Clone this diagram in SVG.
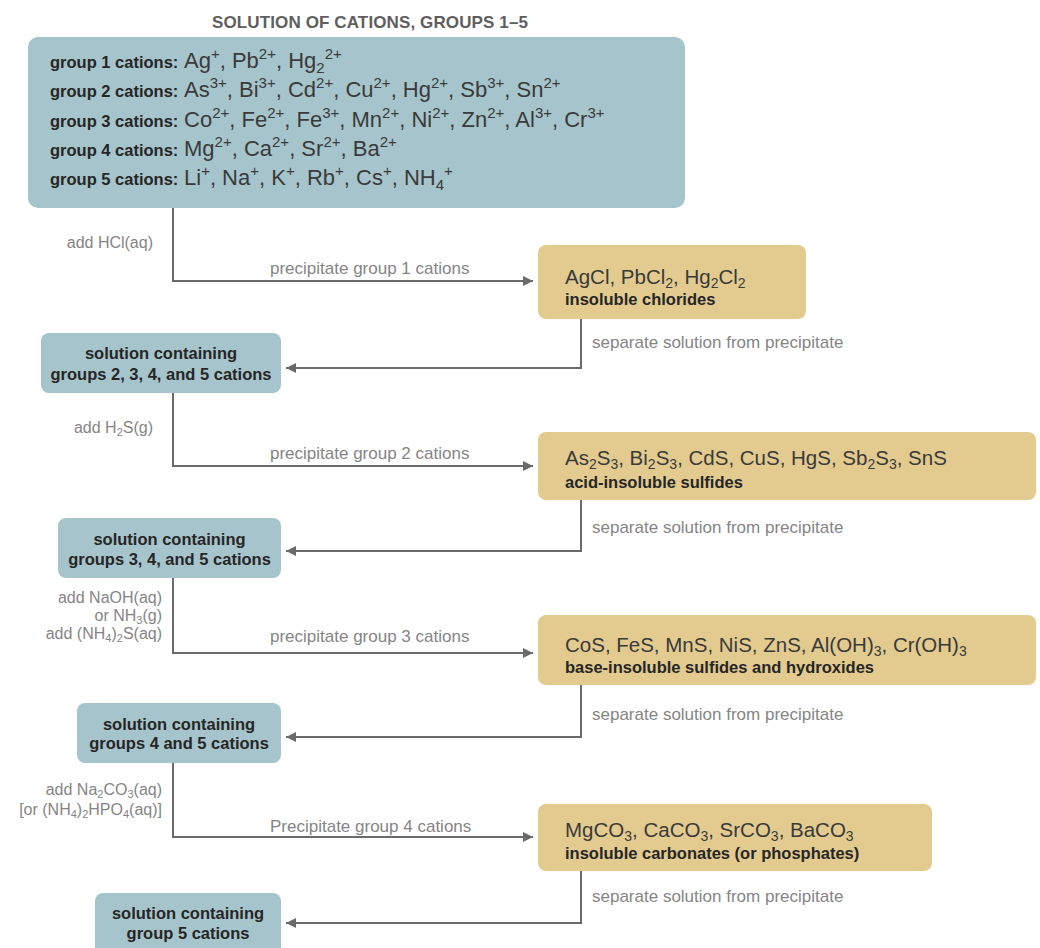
<svg xmlns="http://www.w3.org/2000/svg" width="1040" height="948" viewBox="0 0 1040 948">
<defs>
<style>
.title{font-family:"Liberation Sans",Arial,sans-serif;font-weight:700;font-size:17px;fill:#5e5e5e}
.sol{fill:#a6c4cb}
.ppt{fill:#e3ca8f}
.t{font-family:"Liberation Sans",Arial,sans-serif}
.lb{font-family:"Liberation Sans",Arial,sans-serif;font-weight:700;font-size:16.5px;fill:#262626}
.f{font-family:"Liberation Sans",Arial,sans-serif;font-weight:400;font-size:22px;fill:#3a3a3a}
.fp{font-family:"Liberation Sans",Arial,sans-serif;font-weight:400;font-size:20.5px;fill:#3a3a3a}
.s{font-size:15px}
.ss{font-size:14px}
.g{font-family:"Liberation Sans",Arial,sans-serif;font-size:17px;fill:#858585}
.gl{font-family:"Liberation Sans",Arial,sans-serif;font-size:16px;fill:#858585}
.gs{font-size:11px}
.ln{fill:none;stroke:#6a6a6a;stroke-width:2}
</style>
<marker id="ah" viewBox="0 0 10 10" refX="10" refY="5" markerWidth="10" markerHeight="10" markerUnits="userSpaceOnUse" orient="auto">
<path d="M0,0 L10,5 L0,10 z" fill="#6a6a6a"/>
</marker>
</defs>
<rect width="1040" height="948" fill="#ffffff"/>
<text class="title" x="212" y="28" textLength="316">SOLUTION OF CATIONS, GROUPS 1–5</text>

<g id="connectors">
<path class="ln" d="M173,208 V281 H533" marker-end="url(#ah)"/>
<path class="ln" d="M581,319 V368 H286" marker-end="url(#ah)"/>
<path class="ln" d="M173,393 V466 H533" marker-end="url(#ah)"/>
<path class="ln" d="M581,500 V551 H286" marker-end="url(#ah)"/>
<path class="ln" d="M173,578 V653 H533" marker-end="url(#ah)"/>
<path class="ln" d="M581,685 V737 H286" marker-end="url(#ah)"/>
<path class="ln" d="M173,763 V837 H533" marker-end="url(#ah)"/>
<path class="ln" d="M581,871 V923 H286" marker-end="url(#ah)"/>
<text class="gl" x="153" y="248" text-anchor="end">add HCl(aq)</text>
<text class="g" x="270" y="274">precipitate group 1 cations</text>
<text class="g" x="592" y="348">separate solution from precipitate</text>
<text class="gl" x="153" y="433" text-anchor="end">add H<tspan class="gs" dy="3">2</tspan><tspan dy="-3">S(g)</tspan></text>
<text class="g" x="270" y="459">precipitate group 2 cations</text>
<text class="g" x="592" y="533">separate solution from precipitate</text>
<text class="gl" text-anchor="end"><tspan x="162" y="603">add NaOH(aq)</tspan><tspan x="162" y="621">or NH</tspan><tspan class="gs" dy="3">3</tspan><tspan dy="-3">(g)</tspan><tspan x="162" y="639">add (NH</tspan><tspan class="gs" dy="3">4</tspan><tspan dy="-3">)</tspan><tspan class="gs" dy="3">2</tspan><tspan dy="-3">S(aq)</tspan></text>
<text class="g" x="270" y="642">precipitate group 3 cations</text>
<text class="g" x="592" y="720">separate solution from precipitate</text>
<text class="gl" text-anchor="end"><tspan x="162" y="795">add Na</tspan><tspan class="gs" dy="3">2</tspan><tspan dy="-3">CO</tspan><tspan class="gs" dy="3">3</tspan><tspan dy="-3">(aq)</tspan><tspan x="162" y="815">[or (NH</tspan><tspan class="gs" dy="3">4</tspan><tspan dy="-3">)</tspan><tspan class="gs" dy="3">2</tspan><tspan dy="-3">HPO</tspan><tspan class="gs" dy="3">4</tspan><tspan dy="-3">(aq)]</tspan></text>
<text class="g" x="270" y="832">Precipitate group 4 cations</text>
<text class="g" x="592" y="902">separate solution from precipitate</text>
</g>

<g id="node-start">
<rect class="sol" x="28" y="37" width="657" height="171" rx="10"/>
<text class="t">
<tspan class="lb" x="50" y="68">group 1 cations:</tspan><tspan class="f" x="184" y="68">Ag<tspan class="s" dy="-9">+</tspan><tspan dy="9">, Pb</tspan><tspan class="s" dy="-9">2+</tspan><tspan dy="9">, Hg</tspan><tspan class="s" dy="5">2</tspan><tspan class="s" dy="-14">2+</tspan></tspan>
<tspan class="lb" x="50" y="97">group 2 cations:</tspan><tspan class="f" x="184" y="97">As<tspan class="s" dy="-9">3+</tspan><tspan dy="9">, Bi</tspan><tspan class="s" dy="-9">3+</tspan><tspan dy="9">, Cd</tspan><tspan class="s" dy="-9">2+</tspan><tspan dy="9">, Cu</tspan><tspan class="s" dy="-9">2+</tspan><tspan dy="9">, Hg</tspan><tspan class="s" dy="-9">2+</tspan><tspan dy="9">, Sb</tspan><tspan class="s" dy="-9">3+</tspan><tspan dy="9">, Sn</tspan><tspan class="s" dy="-9">2+</tspan></tspan>
<tspan class="lb" x="50" y="127">group 3 cations:</tspan><tspan class="f" x="184" y="127">Co<tspan class="s" dy="-9">2+</tspan><tspan dy="9">, Fe</tspan><tspan class="s" dy="-9">2+</tspan><tspan dy="9">, Fe</tspan><tspan class="s" dy="-9">3+</tspan><tspan dy="9">, Mn</tspan><tspan class="s" dy="-9">2+</tspan><tspan dy="9">, Ni</tspan><tspan class="s" dy="-9">2+</tspan><tspan dy="9">, Zn</tspan><tspan class="s" dy="-9">2+</tspan><tspan dy="9">, Al</tspan><tspan class="s" dy="-9">3+</tspan><tspan dy="9">, Cr</tspan><tspan class="s" dy="-9">3+</tspan></tspan>
<tspan class="lb" x="50" y="156">group 4 cations:</tspan><tspan class="f" x="184" y="156">Mg<tspan class="s" dy="-9">2+</tspan><tspan dy="9">, Ca</tspan><tspan class="s" dy="-9">2+</tspan><tspan dy="9">, Sr</tspan><tspan class="s" dy="-9">2+</tspan><tspan dy="9">, Ba</tspan><tspan class="s" dy="-9">2+</tspan></tspan>
<tspan class="lb" x="50" y="185">group 5 cations:</tspan><tspan class="f" x="184" y="185">Li<tspan class="s" dy="-9">+</tspan><tspan dy="9">, Na</tspan><tspan class="s" dy="-9">+</tspan><tspan dy="9">, K</tspan><tspan class="s" dy="-9">+</tspan><tspan dy="9">, Rb</tspan><tspan class="s" dy="-9">+</tspan><tspan dy="9">, Cs</tspan><tspan class="s" dy="-9">+</tspan><tspan dy="9">, NH</tspan><tspan class="s" dy="5">4</tspan><tspan class="s" dy="-14">+</tspan></tspan>
</text>
</g>

<g id="node-ppt1">
<rect class="ppt" x="538" y="245" width="268" height="74" rx="8"/>
<text class="t"><tspan class="fp" x="565" y="284">AgCl, PbCl<tspan class="ss" dy="4">2</tspan><tspan dy="-4">, Hg</tspan><tspan class="ss" dy="4">2</tspan><tspan dy="-4">Cl</tspan><tspan class="ss" dy="4">2</tspan></tspan><tspan class="lb" x="565" y="305">insoluble chlorides</tspan></text>
</g>

<g id="node-sol2">
<rect class="sol" x="41" y="333" width="240" height="60" rx="8"/>
<text class="lb" text-anchor="middle"><tspan x="161" y="359">solution containing</tspan><tspan x="161" y="380">groups 2, 3, 4, and 5 cations</tspan></text>
</g>

<g id="node-ppt2">
<rect class="ppt" x="538" y="432" width="498" height="68" rx="8"/>
<text class="t"><tspan class="fp" x="565" y="465">As<tspan class="ss" dy="4">2</tspan><tspan dy="-4">S</tspan><tspan class="ss" dy="4">3</tspan><tspan dy="-4">, Bi</tspan><tspan class="ss" dy="4">2</tspan><tspan dy="-4">S</tspan><tspan class="ss" dy="4">3</tspan><tspan dy="-4">, CdS, CuS, HgS, Sb</tspan><tspan class="ss" dy="4">2</tspan><tspan dy="-4">S</tspan><tspan class="ss" dy="4">3</tspan><tspan dy="-4">, SnS</tspan></tspan><tspan class="lb" x="565" y="488">acid-insoluble sulfides</tspan></text>
</g>

<g id="node-sol3">
<rect class="sol" x="58" y="518" width="223" height="60" rx="8"/>
<text class="lb" text-anchor="middle"><tspan x="169.5" y="545">solution containing</tspan><tspan x="169.5" y="565">groups 3, 4, and 5 cations</tspan></text>
</g>

<g id="node-ppt3">
<rect class="ppt" x="538" y="615" width="498" height="70" rx="8"/>
<text class="t"><tspan class="fp" x="565" y="652">CoS, FeS, MnS, NiS, ZnS, Al(OH)<tspan class="ss" dy="4">3</tspan><tspan dy="-4">, Cr(OH)</tspan><tspan class="ss" dy="4">3</tspan></tspan><tspan class="lb" x="565" y="673">base-insoluble sulfides and hydroxides</tspan></text>
</g>

<g id="node-sol4">
<rect class="sol" x="77" y="703" width="204" height="60" rx="8"/>
<text class="lb" text-anchor="middle"><tspan x="179" y="730">solution containing</tspan><tspan x="179" y="749">groups 4 and 5 cations</tspan></text>
</g>

<g id="node-ppt4">
<rect class="ppt" x="538" y="804" width="394" height="67" rx="8"/>
<text class="t"><tspan class="fp" x="565" y="837">MgCO<tspan class="ss" dy="4">3</tspan><tspan dy="-4">, CaCO</tspan><tspan class="ss" dy="4">3</tspan><tspan dy="-4">, SrCO</tspan><tspan class="ss" dy="4">3</tspan><tspan dy="-4">, BaCO</tspan><tspan class="ss" dy="4">3</tspan></tspan><tspan class="lb" x="565" y="859">insoluble carbonates (or phosphates)</tspan></text>
</g>

<g id="node-sol5">
<rect class="sol" x="95" y="893" width="186" height="66" rx="8"/>
<text class="lb" text-anchor="middle"><tspan x="188" y="919">solution containing</tspan><tspan x="188" y="939">group 5 cations</tspan></text>
</g>
</svg>
